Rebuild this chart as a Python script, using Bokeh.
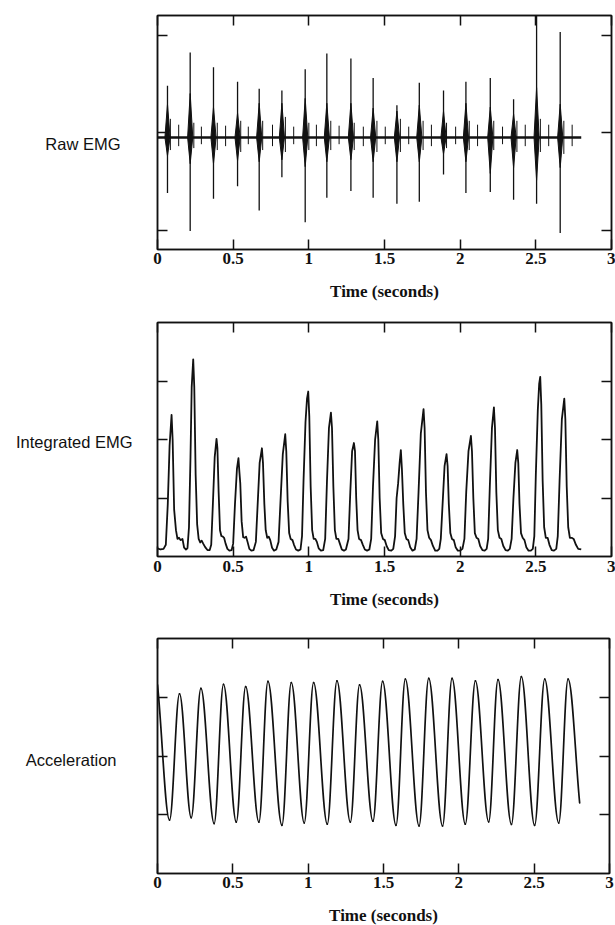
from bokeh.plotting import figure
from bokeh.models import Range1d, LinearAxis, FixedTicker
from bokeh.layouts import column
from bokeh.embed import file_html
from bokeh.resources import INLINE

# ---------------- data ----------------
x_ticks = [0, 0.5, 1, 1.5, 2, 2.5, 3]
x_tick_labels = ["0", "0.5", "1", "1.5", "2", "2.5", "3"]
raw_y_ticks = [-1, 0, 1]
y_ticks = [1, 2, 3]
x_title = "Time (seconds)"
panel_names = ["Raw EMG", "Integrated EMG", "Acceleration"]
panel_name_y = [-0.12, 1.95, 1.94]          # vertical position of each name, in data units

# Raw EMG (bursts: main spike extent, dense core extent) + small wiggles
raw_start = 0.0
raw_end = 2.80
raw_baseline = -0.05
burst_t = [0.066, 0.216, 0.370, 0.529, 0.672, 0.822, 0.976, 1.119, 1.278,
           1.425, 1.582, 1.730, 1.890, 2.038, 2.199, 2.353, 2.505, 2.661]
burst_hi = [0.48, 0.82, 0.67, 0.52, 0.45, 0.43, 0.65, 0.81, 0.76,
            0.56, 0.28, 0.51, 0.43, 0.52, 0.56, 0.34, 1.25, 1.03]
burst_lo = [-0.62, -1.01, -0.68, -0.55, -0.80, -0.46, -0.92, -0.67, -0.60,
            -0.67, -0.73, -0.71, -0.43, -0.62, -0.61, -0.69, -0.73, -1.03]
core_hi = [0.29, 0.40, 0.26, 0.20, 0.30, 0.30, 0.35, 0.30, 0.30,
           0.25, 0.22, 0.28, 0.22, 0.30, 0.26, 0.19, 0.46, 0.29]
core_lo = [-0.24, -0.32, -0.32, -0.29, -0.30, -0.28, -0.35, -0.30, -0.28,
           -0.30, -0.30, -0.30, -0.22, -0.30, -0.42, -0.36, -0.49, -0.36]
minor_t = [0.085, 0.140, 0.240, 0.290, 0.395, 0.450, 0.550, 0.600, 0.695,
           0.760, 0.845, 0.900, 1.000, 1.050, 1.145, 1.200, 1.300, 1.360,
           1.450, 1.505, 1.605, 1.660, 1.755, 1.810, 1.910, 1.970, 2.060,
           2.115, 2.222, 2.280, 2.375, 2.430, 2.530, 2.585, 2.685, 2.740]
minor_hi = [0.14, 0.08, 0.10, 0.06, 0.10, 0.07, 0.12, 0.06, 0.12,
            0.08, 0.16, 0.06, 0.10, 0.08, 0.12, 0.07, 0.10, 0.06,
            0.12, 0.06, 0.14, 0.06, 0.12, 0.08, 0.10, 0.06, 0.12,
            0.08, 0.12, 0.06, 0.12, 0.08, 0.14, 0.08, 0.12, 0.08]
minor_lo = [-0.18, -0.14, -0.16, -0.12, -0.18, -0.14, -0.20, -0.12, -0.18,
            -0.14, -0.20, -0.12, -0.18, -0.14, -0.18, -0.12, -0.18, -0.14,
            -0.20, -0.12, -0.20, -0.12, -0.18, -0.14, -0.16, -0.12, -0.18,
            -0.14, -0.18, -0.12, -0.20, -0.14, -0.20, -0.14, -0.22, -0.14]

# Integrated EMG trace (one line per contraction)
int_t = [0.000, 0.020, 0.040,
         0.055, 0.068, 0.080, 0.093, 0.100, 0.110, 0.122, 0.132, 0.142, 0.152, 0.165, 0.176, 0.188, 0.198,
         0.208, 0.218, 0.226, 0.236, 0.243, 0.252, 0.262, 0.272, 0.282, 0.292, 0.302, 0.315, 0.330, 0.345,
         0.355, 0.366, 0.378, 0.390, 0.396, 0.404, 0.413, 0.422, 0.432, 0.440, 0.450, 0.462, 0.475, 0.490,
         0.500, 0.512, 0.525, 0.535, 0.541, 0.547, 0.556, 0.566, 0.575, 0.585, 0.595, 0.607, 0.620, 0.635,
         0.650, 0.662, 0.675, 0.690, 0.697, 0.706, 0.715, 0.725, 0.735, 0.745, 0.757, 0.770, 0.785,
         0.800, 0.812, 0.828, 0.844, 0.851, 0.860, 0.870, 0.880, 0.892, 0.902, 0.915, 0.930, 0.945,
         0.955, 0.965, 0.978, 0.988, 0.996, 1.003, 1.012, 1.022, 1.032, 1.043, 1.053, 1.065, 1.080, 1.095,
         1.108, 1.120, 1.133, 1.146, 1.153, 1.162, 1.172, 1.182, 1.195, 1.205, 1.218, 1.232, 1.245,
         1.262, 1.274, 1.286, 1.298, 1.305, 1.313, 1.322, 1.332, 1.345, 1.357, 1.370, 1.385, 1.400,
         1.412, 1.424, 1.438, 1.452, 1.459, 1.468, 1.478, 1.490, 1.502, 1.514, 1.528, 1.545, 1.558,
         1.570, 1.580, 1.590, 1.600, 1.608, 1.615, 1.624, 1.634, 1.645, 1.657, 1.670, 1.685, 1.700,
         1.712, 1.725, 1.740, 1.758, 1.765, 1.774, 1.784, 1.795, 1.807, 1.820, 1.835, 1.850, 1.862,
         1.872, 1.884, 1.897, 1.910, 1.917, 1.925, 1.935, 1.946, 1.958, 1.970, 1.985, 2.000, 2.015,
         2.028, 2.040, 2.055, 2.071, 2.078, 2.087, 2.097, 2.108, 2.120, 2.132, 2.147, 2.162, 2.175,
         2.185, 2.196, 2.210, 2.223, 2.230, 2.239, 2.249, 2.260, 2.272, 2.285, 2.300, 2.315, 2.328,
         2.340, 2.352, 2.365, 2.377, 2.384, 2.392, 2.402, 2.413, 2.425, 2.437, 2.452, 2.467, 2.480,
         2.490, 2.500, 2.513, 2.522, 2.529, 2.536, 2.545, 2.555, 2.566, 2.578, 2.590, 2.605, 2.620, 2.635,
         2.645, 2.657, 2.672, 2.688, 2.695, 2.704, 2.714, 2.725, 2.737, 2.750, 2.765, 2.780, 2.800]
int_v = [0.14, 0.12, 0.13,
         0.20, 0.90, 1.90, 2.42, 2.00, 0.80, 0.45, 0.30, 0.32, 0.28, 0.30, 0.15, 0.12, 0.14,
         0.50, 1.70, 2.90, 3.37, 2.90, 1.40, 0.55, 0.30, 0.24, 0.27, 0.22, 0.16, 0.11, 0.11,
         0.20, 0.90, 1.70, 2.01, 1.85, 1.10, 0.45, 0.35, 0.34, 0.32, 0.22, 0.13, 0.10, 0.11,
         0.22, 0.90, 1.50, 1.68, 1.45, 1.25, 0.60, 0.33, 0.32, 0.34, 0.25, 0.13, 0.10, 0.11,
         0.25, 0.90, 1.60, 1.85, 1.60, 0.90, 0.45, 0.32, 0.34, 0.28, 0.15, 0.10, 0.12,
         0.25, 0.90, 1.75, 2.09, 1.80, 0.95, 0.40, 0.30, 0.28, 0.20, 0.12, 0.10, 0.12,
         0.35, 1.30, 2.30, 2.70, 2.82, 2.40, 1.20, 0.45, 0.30, 0.30, 0.25, 0.14, 0.10, 0.11,
         0.30, 1.30, 2.20, 2.46, 2.20, 1.20, 0.45, 0.30, 0.30, 0.22, 0.12, 0.10, 0.12,
         0.30, 1.10, 1.80, 1.94, 1.80, 1.00, 0.45, 0.30, 0.28, 0.20, 0.12, 0.10, 0.12,
         0.30, 1.20, 2.00, 2.31, 2.00, 1.00, 0.40, 0.30, 0.28, 0.18, 0.11, 0.10, 0.13,
         0.35, 1.00, 1.25, 1.60, 1.82, 1.50, 0.90, 0.40, 0.30, 0.28, 0.16, 0.10, 0.12,
         0.30, 1.10, 2.10, 2.52, 2.20, 1.10, 0.45, 0.32, 0.28, 0.18, 0.10, 0.10, 0.13,
         0.30, 0.90, 1.55, 1.75, 1.55, 0.90, 0.40, 0.30, 0.28, 0.16, 0.10, 0.10, 0.13,
         0.30, 1.10, 1.80, 2.06, 1.80, 1.00, 0.40, 0.32, 0.30, 0.18, 0.11, 0.10, 0.13,
         0.30, 1.20, 2.20, 2.55, 2.20, 1.10, 0.45, 0.32, 0.30, 0.18, 0.11, 0.10, 0.13,
         0.30, 1.00, 1.60, 1.82, 1.60, 0.90, 0.40, 0.32, 0.28, 0.16, 0.10, 0.10, 0.13,
         0.35, 1.40, 2.50, 2.95, 3.07, 2.60, 1.30, 0.50, 0.32, 0.32, 0.20, 0.11, 0.10, 0.13,
         0.35, 1.30, 2.35, 2.70, 2.35, 1.20, 0.50, 0.32, 0.32, 0.30, 0.20, 0.13, 0.12]

# Acceleration: successive peaks / troughs (start and end are the trace ends)
acc_t = [0.000, 0.080, 0.146, 0.224, 0.288, 0.376, 0.438, 0.523, 0.585, 0.673,
         0.733, 0.826, 0.888, 0.974, 1.036, 1.127, 1.191, 1.280, 1.341, 1.430,
         1.494, 1.583, 1.645, 1.736, 1.800, 1.892, 1.955, 2.043, 2.110, 2.198,
         2.260, 2.349, 2.415, 2.503, 2.570, 2.663, 2.725, 2.802]
acc_v = [3.21, 0.91, 3.06, 0.95, 3.15, 0.85, 3.22, 0.875, 3.18, 0.875,
         3.27, 0.82, 3.25, 0.86, 3.25, 0.84, 3.28, 0.875, 3.21, 0.89,
         3.27, 0.82, 3.31, 0.81, 3.32, 0.81, 3.32, 0.84, 3.28, 0.88,
         3.30, 0.835, 3.35, 0.82, 3.31, 0.86, 3.31, 1.20]

assert len(int_t) == len(int_v)
assert len(acc_t) == len(acc_v)

# ---------------- styling ----------------
INK = "#111111"
SERIF = "Liberation Serif"
SANS = "Liberation Sans"
BURST_HALF_WIDTH = 0.017   # half width (time units) of the dense part of each burst


def style_axis(ax, ticks, labels=None, standoff=3):
    ax.ticker = FixedTicker(ticks=ticks)
    ax.major_tick_in = 10
    ax.major_tick_out = 0
    ax.minor_tick_line_color = None
    ax.major_tick_line_color = INK
    ax.major_tick_line_width = 1.5
    ax.axis_line_color = INK
    ax.axis_line_width = 1.5
    if labels is None:
        ax.major_label_overrides = {t: "" for t in ticks}
        ax.major_label_text_font_size = "0px"
        ax.major_label_standoff = 0
    else:
        ax.major_label_overrides = {t: s for t, s in zip(ticks, labels)}
        ax.major_label_text_font = SERIF
        ax.major_label_text_font_style = "bold"
        ax.major_label_text_font_size = "17px"
        ax.major_label_text_color = INK
        ax.major_label_standoff = standoff


def make_fig(y_lo, y_hi, yt, name, name_y, name_gap, left, fw, fh, top, bottom,
             tick_standoff, lab_standoff):
    p = figure(frame_width=fw, frame_height=fh,
               x_range=Range1d(0, 3), y_range=Range1d(y_lo, y_hi),
               x_axis_type=None, y_axis_type=None,
               output_backend="svg", toolbar_location=None,
               min_border_left=left, min_border_right=6,
               min_border_top=top, min_border_bottom=bottom)
    p.outline_line_color = INK
    p.outline_line_width = 1.5
    p.background_fill_color = "white"
    p.border_fill_color = "white"

    below = LinearAxis()
    style_axis(below, x_ticks, x_tick_labels, tick_standoff)
    below.axis_label = x_title
    below.axis_label_text_font = SERIF
    below.axis_label_text_font_style = "bold"
    below.axis_label_text_font_size = "17px"
    below.axis_label_text_color = INK
    below.axis_label_standoff = lab_standoff
    p.add_layout(below, "below")

    above = LinearAxis()
    style_axis(above, x_ticks)
    p.add_layout(above, "above")

    lft = LinearAxis()
    style_axis(lft, yt)
    p.add_layout(lft, "left")

    rgt = LinearAxis()
    style_axis(rgt, yt)
    p.add_layout(rgt, "right")

    # panel name, written horizontally to the left of the frame
    name_ax = LinearAxis(ticker=FixedTicker(ticks=[name_y]),
                         major_label_overrides={name_y: name})
    name_ax.axis_line_color = None
    name_ax.major_tick_line_color = None
    name_ax.minor_tick_line_color = None
    name_ax.major_tick_in = 0
    name_ax.major_tick_out = 0
    name_ax.major_label_standoff = name_gap
    name_ax.major_label_text_font = SANS
    name_ax.major_label_text_font_size = "16.5px"
    name_ax.major_label_text_color = INK
    p.add_layout(name_ax, "left")
    return p


# Panel 1: raw EMG
p1 = make_fig(-1.2, 1.2, raw_y_ticks, panel_names[0], panel_name_y[0], 37,
              155, 454, 234, 15, 63, 3, 15)
p1.line([raw_start, raw_end], [raw_baseline, raw_baseline], line_color=INK, line_width=2.5)
p1.segment(minor_t, minor_lo, minor_t, minor_hi, line_color=INK, line_width=1.0)
p1.segment(burst_t, burst_lo, burst_t, burst_hi, line_color=INK, line_width=1.3)
core_xs = [[t - BURST_HALF_WIDTH, t, t + BURST_HALF_WIDTH, t] for t in burst_t]
core_ys = [[raw_baseline, hi, raw_baseline, lo] for hi, lo in zip(core_hi, core_lo)]
p1.patches(core_xs, core_ys, fill_color=INK, line_color=INK, line_width=1.0)

# Panel 2: integrated EMG
p2 = make_fig(0, 4, y_ticks, panel_names[1], panel_name_y[1], 25,
              155, 454, 234, 10, 72, 4, 15)
p2.line(int_t, int_v, line_color=INK, line_width=1.8, line_join="round")

# Panel 3: acceleration, drawn as smooth half-waves between extremes
k = 0.3634
x0 = acc_t[:-1]
x1 = acc_t[1:]
y0 = acc_v[:-1]
y1 = acc_v[1:]
cx0 = [a + k * (b - a) for a, b in zip(x0, x1)]
cx1 = [b - k * (b - a) for a, b in zip(x0, x1)]
cy0 = list(y0)
cy1 = list(y1)
cy0[0] = y0[0] - 0.3 * (y0[0] - y1[0])      # trace starts mid-descent
cy1[-1] = y1[-1] + 0.35 * (y0[-1] - y1[-1])  # trace ends mid-descent

p3 = make_fig(0, 4, y_ticks, panel_names[2], panel_name_y[2], 41,
              157, 452, 235, 10, 52, 3, 15)
p3.bezier(x0=x0, y0=y0, x1=x1, y1=y1, cx0=cx0, cy0=cy0, cx1=cx1, cy1=cy1,
          line_color=INK, line_width=1.7, line_cap="round")

layout = column(p1, p2, p3, spacing=0)
open("out.html", "w").write(file_html(layout, INLINE))
